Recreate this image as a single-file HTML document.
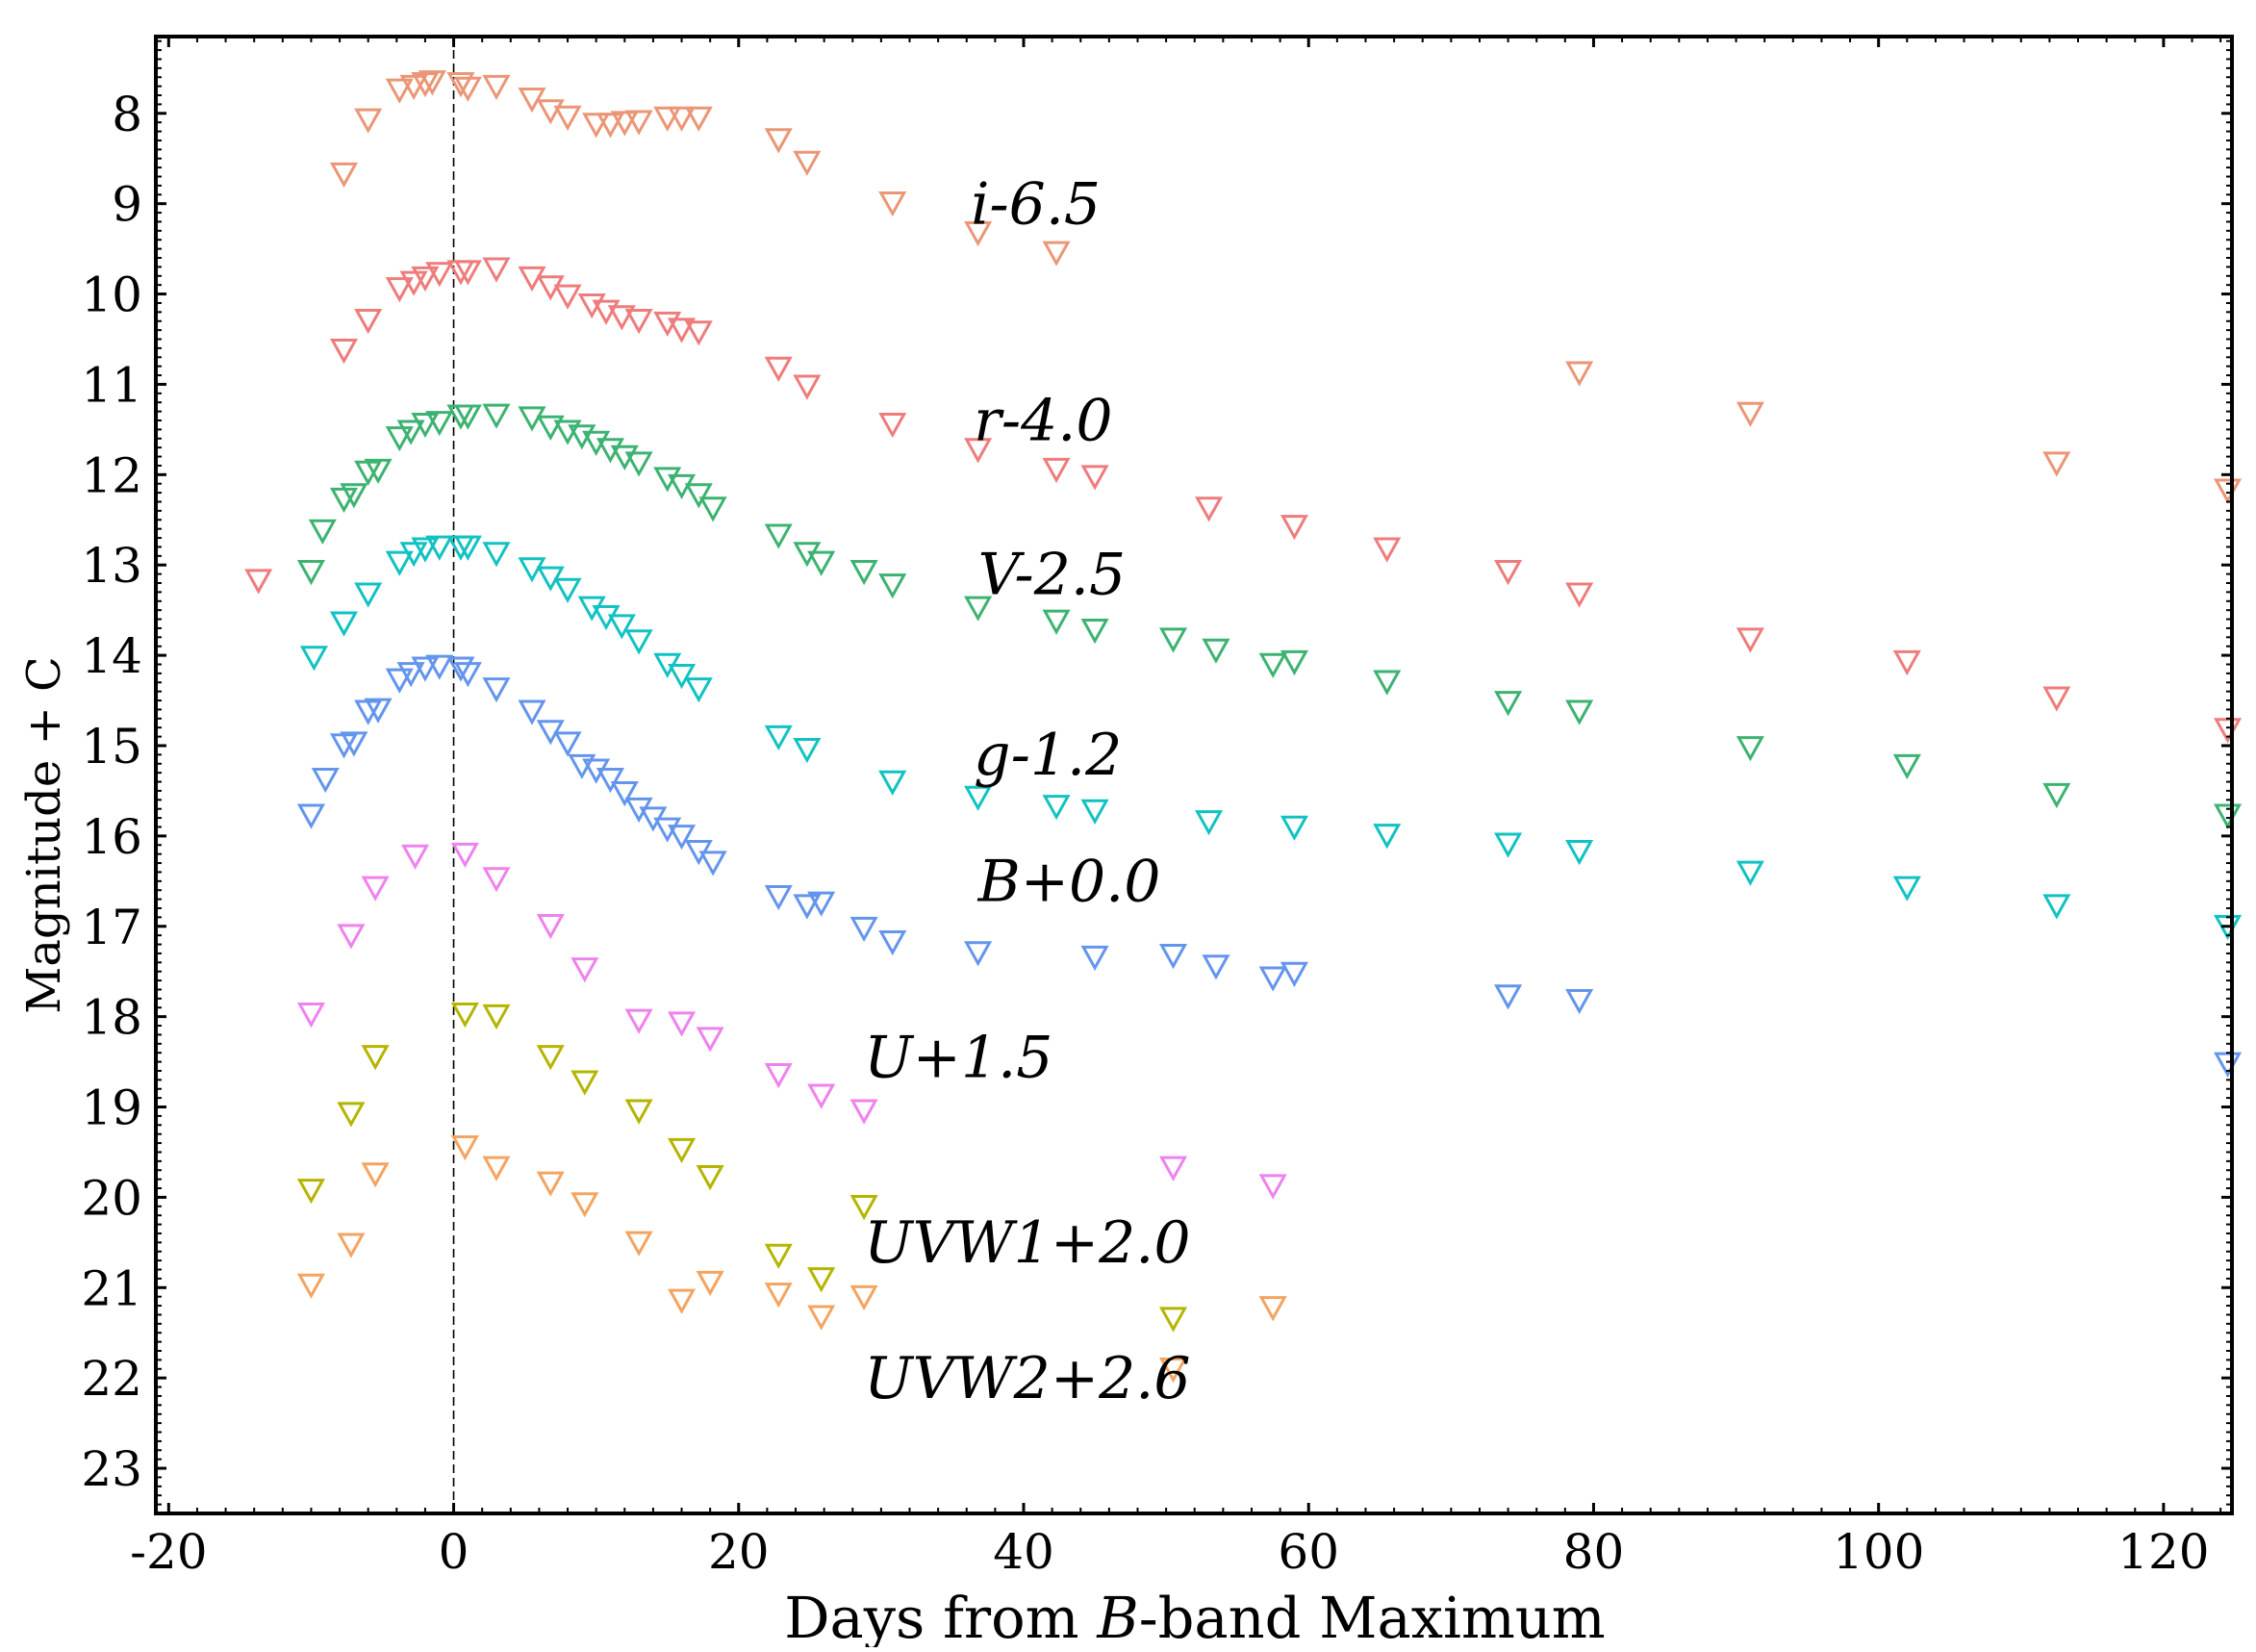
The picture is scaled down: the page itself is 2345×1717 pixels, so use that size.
<!DOCTYPE html>
<html><head><meta charset="utf-8"><style>
html,body{margin:0;padding:0;background:#fff}
svg text{font-family:"DejaVu Serif","Liberation Serif",serif}
</style></head><body>
<svg id="chart" width="2345" height="1712" xmlns="http://www.w3.org/2000/svg">
<g id="marks"></g>
<g id="axes"></g>
</svg>
<script>
const xTicks=[-20,0,20,40,60,80,100,120];
const yTicks=[8,9,10,11,12,13,14,15,16,17,18,19,20,21,22,23];
const bandNames=["i","r","V","g","B","U","UVW1","UVW2"];
const bandColors=["#eb9676","#ef7c7c","#3cb371","#12c2c2","#6495ed","#ee82ee","#b5b500","#f4a460"];
const bandLabels=["i-6.5","r-4.0","V-2.5","g-1.2","B+0.0","U+1.5","UVW1+2.0","UVW2+2.6"];
const labelPos=[[36.3,9.22],[36.5,11.62],[36.8,13.32],[36.5,15.32],[36.8,16.72],[28.8,18.67],[28.8,20.72],[28.8,22.22]];
const iDays=[-7.7,-6,-3.8,-2.8,-2,-1.5,0.5,1,3,5.5,6.8,8,10,11,12,13,15,16,17.2,22.8,24.8,30.8,36.8,42.3,79,91,112.5,124.5];
const iMag=[8.65,8.05,7.72,7.68,7.65,7.63,7.65,7.7,7.68,7.82,7.95,8.02,8.1,8.1,8.08,8.07,8.03,8.03,8.03,8.27,8.52,8.97,9.3,9.52,10.85,11.3,11.85,12.15];
const rDays=[-13.7,-7.7,-6,-3.8,-2.8,-2,-1,0.5,1,3,5.5,6.8,8,9.7,10.7,11.8,13,15,16,17.2,22.8,24.8,30.8,36.8,42.3,45,53,59,65.5,74,79,91,102,112.5,124.5];
const rMag=[13.15,10.6,10.27,9.92,9.85,9.8,9.75,9.73,9.73,9.7,9.8,9.9,10,10.1,10.17,10.23,10.27,10.3,10.37,10.4,10.8,11,11.42,11.7,11.92,12,12.35,12.55,12.8,13.05,13.3,13.8,14.05,14.45,14.8];
const vDays=[-10,-9.2,-7.7,-7,-6,-5.3,-3.8,-3,-2,-1,0.5,1,3,5.5,6.8,8,9,10,11,12,13,15,16,17.2,18.2,22.8,24.8,25.8,28.8,30.8,36.8,42.3,45,50.5,53.5,57.5,59,65.5,74,79,91,102,112.5,124.5];
const vMag=[13.05,12.6,12.25,12.2,11.95,11.93,11.57,11.5,11.42,11.4,11.33,11.33,11.32,11.35,11.45,11.5,11.55,11.62,11.7,11.78,11.85,12.02,12.1,12.2,12.35,12.65,12.85,12.95,13.05,13.2,13.45,13.6,13.7,13.8,13.92,14.08,14.05,14.27,14.5,14.6,15,15.2,15.52,15.75];
const gDays=[-9.8,-7.7,-6,-3.8,-2.8,-2,-1,0.5,1,3,5.5,6.8,8,9.7,10.7,11.8,13,15,16,17.2,22.8,24.8,30.8,36.8,42.3,45,53,59,65.5,74,79,91,102,112.5,124.5];
const gMag=[14,13.62,13.3,12.95,12.85,12.8,12.78,12.78,12.78,12.85,13.02,13.12,13.25,13.45,13.55,13.65,13.82,14.08,14.2,14.35,14.88,15.02,15.38,15.55,15.65,15.7,15.82,15.88,15.97,16.07,16.15,16.38,16.55,16.75,16.98];
const bDays=[-10,-9,-7.7,-7,-6,-5.3,-3.8,-3,-2,-1,0.5,1,3,5.5,6.8,8,9,10,11,12,13,14,15,16,17.2,18.2,22.8,24.8,25.8,28.8,30.8,36.8,45,50.5,53.5,57.5,59,74,79,124.5];
const bMag=[15.75,15.35,14.97,14.95,14.6,14.58,14.25,14.18,14.12,14.1,14.12,14.18,14.35,14.6,14.82,14.95,15.2,15.25,15.35,15.5,15.68,15.78,15.9,15.98,16.15,16.27,16.65,16.75,16.72,17,17.15,17.27,17.32,17.3,17.42,17.55,17.5,17.75,17.8,18.5];
const uDays=[-10,-7.2,-5.5,-2.7,0.8,3,6.8,9.2,13,16,18,22.8,25.8,28.8,50.5,57.5];
const uMag=[17.95,17.08,16.55,16.2,16.18,16.45,16.97,17.45,18.02,18.05,18.22,18.62,18.85,19.02,19.65,19.85];
const w1Days=[-10,-7.2,-5.5,0.8,3,6.8,9.2,13,16,18,22.8,25.8,28.8,50.5];
const w1Mag=[19.9,19.05,18.42,17.95,17.97,18.42,18.7,19.02,19.45,19.75,20.62,20.88,20.08,21.32];
const w2Days=[-10,-7.2,-5.5,0.8,3,6.8,9.2,13,16,18,22.8,25.8,28.8,50.5,57.5];
const w2Mag=[20.95,20.5,19.72,19.42,19.65,19.82,20.05,20.48,21.12,20.92,21.05,21.3,21.08,21.88,21.2];

const NS="http://www.w3.org/2000/svg";
const L=162,R=2320,T=38,B=1573;
const xMin=-20.9,xMax=124.8,yMin=7.15,yMax=23.5;
function sx(d){return L+(d-xMin)/(xMax-xMin)*(R-L);}
function sy(m){return T+(m-yMin)/(yMax-yMin)*(B-T);}
function mk(tag,attrs,parent){const e=document.createElementNS(NS,tag);for(const k in attrs)e.setAttribute(k,attrs[k]);parent.appendChild(e);return e;}
const marks=document.getElementById('marks'),axes=document.getElementById('axes');

const zl=mk('line',{x1:sx(0),x2:sx(0),y1:T,y2:B,stroke:'#000','stroke-width':1.6,'stroke-dasharray':'9,5'},marks);



const series=[[iDays,iMag],[rDays,rMag],[vDays,vMag],[gDays,gMag],[bDays,bMag],[uDays,uMag],[w1Days,w1Mag],[w2Days,w2Mag]];
series.forEach((s,bi)=>{
  const g=mk('g',{},marks);
  
  
  s[0].forEach((d,j)=>{
    const x=sx(d),y=sy(s[1][j]),h=12;
    const p=mk('path',{d:`M${x-12},${y-h*0.7}L${x+12},${y-h*0.7}L${x},${y+h*1.1}Z`,fill:'none',stroke:bandColors[bi],'stroke-width':3},g);
    
    
  });
  const t=mk('text',{x:sx(labelPos[bi][0]),y:sy(labelPos[bi][1]),'font-size':60,'font-style':'italic',fill:'#000'},marks);
  t.textContent=bandLabels[bi];
  
  
});

const fr=mk('rect',{x:L,y:T,width:R-L,height:B-T,fill:'none',stroke:'#000','stroke-width':4},axes);


for(let d=-20;d<=124;d+=2){
  const x=sx(d),maj=(d%20===0),len=maj?11:6;
  mk('line',{x1:x,x2:x,y1:B,y2:B-len,stroke:'#000','stroke-width':maj?3:2},axes);
  mk('line',{x1:x,x2:x,y1:T,y2:T+len,stroke:'#000','stroke-width':maj?3:2},axes);
}
xTicks.forEach(v=>{
  const t=mk('text',{x:sx(v),y:1630,'font-size':50,'text-anchor':'middle',fill:'#000'},axes);
  t.textContent=v;
  
  
});
for(let k=72;k<=235;k++){
  const m=k/10,y=sy(m),maj=(k%10===0),len=maj?11:6;
  mk('line',{x1:L,x2:L+len,y1:y,y2:y,stroke:'#000','stroke-width':maj?3:2},axes);
  mk('line',{x1:R,x2:R-len,y1:y,y2:y,stroke:'#000','stroke-width':maj?3:2},axes);
}
yTicks.forEach(v=>{
  const t=mk('text',{x:148,y:sy(v)+18,'font-size':50,'text-anchor':'end',fill:'#000'},axes);
  t.textContent=v;
  
  
});
const xl=mk('text',{x:1242,y:1702,'font-size':59,'text-anchor':'middle',fill:'#000'},axes);
xl.innerHTML='Days from <tspan font-style="italic">B</tspan>-band Maximum';


const yl=mk('text',{x:0,y:0,'font-size':48,'text-anchor':'middle',fill:'#000',transform:'translate(62,868) rotate(-90)'},axes);
yl.textContent='Magnitude + C';


</script>
</body></html>
